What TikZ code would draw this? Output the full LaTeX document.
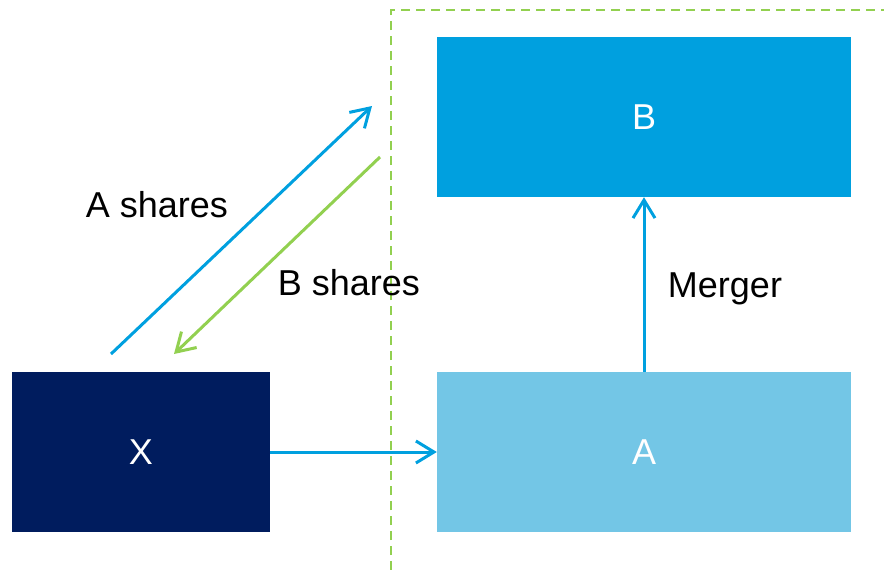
\documentclass[tikz,border=0pt]{standalone}
\usepackage{fontspec}
\setmainfont{Liberation Sans}
\usetikzlibrary{arrows.meta}
\definecolor{bblue}{HTML}{00A0DF}
\definecolor{lblue}{HTML}{73C6E6}
\definecolor{navy}{HTML}{001C5E}
\definecolor{lgreen}{HTML}{92D050}
\begin{document}
\begin{tikzpicture}[x=1pt,y=-1pt,
  box/.style={minimum width=414pt,minimum height=160pt,inner sep=0pt,text=white,font=\fontsize{36}{40}\selectfont},
  conn/.style={line width=3pt,-{Straight Barb[length=18pt,width=22pt,line width=3pt]}},
  lbl/.style={font=\fontsize{36}{40}\selectfont,inner sep=0pt}]
\useasboundingbox (0,0) rectangle (884,570);
% merged-group boundary
\draw[lgreen,line width=2.4pt,dash pattern=on 9pt off 6pt] (391,570) -- (391,10) -- (884,10);
% boxes
\node[box,fill=bblue] (b) at (644,117) {B};
\node[box,fill=lblue] (a) at (644,452) {A};
\node[box,fill=navy,minimum width=258pt] (x) at (141,452) {X};
% share exchange endpoints
\coordinate (s1) at (111,354);
\coordinate (e1) at (372,106);
\coordinate (s2) at (380,157);
\coordinate (e2) at (174,354);
% connectors
\draw[conn,bblue] (x.east) -- (a.west);
\draw[conn,bblue] (a.north) -- (b.south);
\draw[conn,bblue] (s1) -- (e1);
\draw[conn,lgreen] (s2) -- (e2);
% labels
\node[lbl] (la) at (157,205) {A shares};
\node[lbl] (lb) at (349,283) {B shares};
\node[lbl] (lm) at (725,289) {Merger};
\end{tikzpicture}
\end{document}
